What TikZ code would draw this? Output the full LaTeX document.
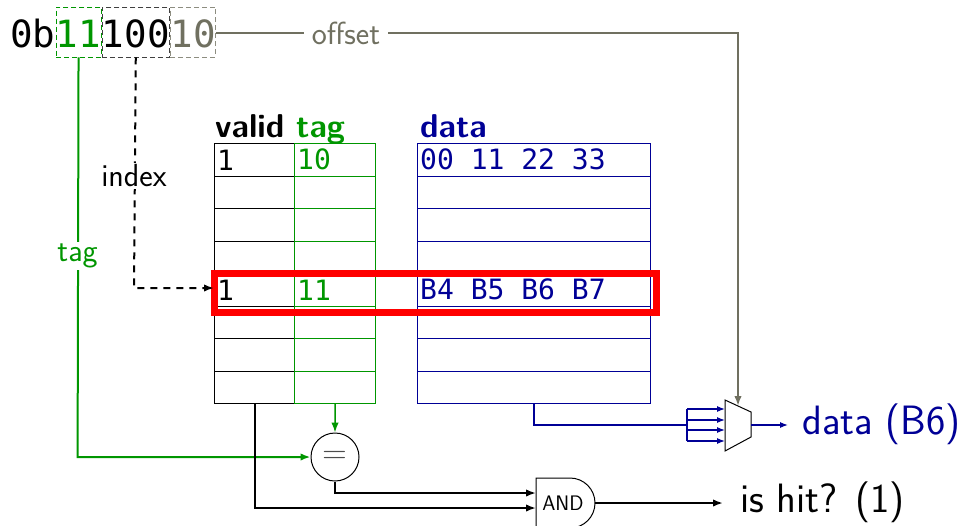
\documentclass[tikz,border=0pt]{standalone}
\usepackage{fontspec}
\setmonofont{DejaVu Sans Mono}
\usetikzlibrary{arrows.meta}
\definecolor{tgreen}{RGB}{0,150,0}
\definecolor{dblue}{RGB}{0,0,150}
\definecolor{offc}{RGB}{112,112,96}
\begin{document}
\begin{tikzpicture}[x=1pt,y=-1pt,
  addr/.style={font=\fontsize{37.5}{40}\selectfont\ttfamily, inner sep=0pt, text height=40pt, text depth=10pt, anchor=base west},
  box/.style={draw, dashed, line width=0.8pt, dash pattern=on 5pt off 3pt},
  mono/.style={font=\fontsize{28}{30}\selectfont\ttfamily, inner xsep=3pt, inner ysep=0pt, anchor=west},
  hdr/.style={font=\fontsize{33}{35}\selectfont\sffamily\bfseries, inner sep=0pt, anchor=base west},
  lbl/.style={font=\fontsize{32}{34}\selectfont\sffamily, fill=white, inner xsep=8pt, inner ysep=2pt},
  big/.style={font=\fontsize{41}{44}\selectfont\sffamily, inner sep=0pt, anchor=base west},
  vcell/.style={draw=black, line width=1.1pt, minimum width=80pt, minimum height=32.5pt, anchor=north west, inner sep=0pt},
  tcell/.style={draw=tgreen, line width=1.1pt, minimum width=81pt, minimum height=32.5pt, anchor=north west, inner sep=0pt},
  dcell/.style={draw=dblue, line width=1.1pt, minimum width=233pt, minimum height=32.5pt, anchor=north west, inner sep=0pt},
  conn/.style={line width=2pt},
  tip/.style={-{Latex[length=10pt,width=7.5pt]}},
  smalltip/.style={-{Latex[length=8pt,width=6pt]}}
]
\useasboundingbox (0,0) rectangle (960,525);

% address
\node[addr] (pre) at (10,47) {0b};
\node[addr, box, draw=tgreen, text=tgreen] (atag) at (pre.base east) {11};
\node[addr, box, draw=black!75] (aidx) at (atag.base east) {100};
\node[addr, box, draw=offc!80, text=offc] (aoff) at (aidx.base east) {10};

% table
\foreach \i in {0,...,7} {
  \node[vcell] (v\i) at (214,{143+32.5*\i}) {};
  \node[tcell] (t\i) at (294,{143+32.5*\i}) {};
  \node[dcell] (d\i) at (417,{143+32.5*\i}) {};
}
\node[hdr] (hv) at (215,137) {valid};
\node[hdr, text=tgreen] (ht) at (296,137) {tag};
\node[hdr, text=dblue] (hd) at (420,137) {data};

\node[mono] (v0x) at (v0.west) {1};
\node[mono, text=tgreen] (t0x) at (t0.west) {10};
\node[mono, text=dblue] (d0x) at (d0.west) {00 11 22 33};
\node[mono] (v4x) at (v4.west) {1};
\node[mono, text=tgreen] (t4x) at (t4.west) {11};
\node[mono, text=dblue] (d4x) at (d4.west) {B4 B5 B6 B7};

\node[draw=red, line width=7pt, minimum width=442pt, minimum height=39pt, anchor=north west, inner sep=0pt] (hl) at (210.5,269.5) {};

% comparator
\node[circle, draw, line width=1pt, minimum size=48pt, inner sep=0pt] (eq) at (335,457) {};
\node[font=\fontsize{34}{34}\selectfont\sffamily, text=black!70, inner sep=0pt] (eqsym) at (eq.center) {=};

% AND gate
\draw[line width=1pt, fill=white] (536,478) -- (570,478) arc[start angle=-90, end angle=90, radius=25] -- (536,528) -- cycle;
\node[font=\fontsize{21}{22}\selectfont\sffamily, inner sep=0pt] (andg) at (563,503) {AND};
\coordinate (andin1) at (536,493);
\coordinate (andin2) at (536,508);
\coordinate (andout) at (595,503);

% mux
\draw[line width=1pt] (725,400) -- (751,412) -- (751,437) -- (725,451) -- cycle;
\coordinate (muxtop) at (738,406);
\coordinate (muxout) at (751,425);
\coordinate (fan) at (687,425);
\foreach \k/\yy in {1/409,2/420,3/430,4/441} {
  \coordinate (mi\k) at (725,\yy);
  \coordinate (fs\k) at (687,\yy);
}

% offset connector
\coordinate (offcorner) at (738,33);
\draw[conn, offc, tip] (aoff.east |- 0,33) -- (offcorner) -- (muxtop);
\node[lbl, text=offc] (offl) at (346,33) {offset};

% index connector
\coordinate (idxcorner) at (134,288);
\draw[conn, dashed, tip, dash pattern=on 7pt off 6pt] (aidx.south) -- (idxcorner) -- (v4.west |- idxcorner);
\node[lbl] (idxl) at (134,176) {index};

% tag connector
\coordinate (tagcorner) at (77.6,457);
\draw[conn, tgreen, tip] (atag.south) -- (tagcorner) -- (eq.west);
\node[lbl, text=tgreen] (tagl) at (77.6,256) {tag};

% stored tag to comparator
\draw[conn, tgreen, tip, line width=1.5pt] (t7.south) -- (eq.north);

% to AND
\draw[conn, tip] (eq.south) |- (andin1);
\draw[conn, tip] (v7.south) |- (andin2);
\coordinate (hitend) at (723,503);
\draw[conn, tip] (andout) -- (hitend);
\node[big] (hit) at (740,512) {is hit? (1)};

% data to mux
\draw[conn, dblue] (d7.south) |- (fan);
\draw[dblue, line width=1.2pt] (fs1) -- (fs4);
\foreach \k in {1,...,4} {
  \draw[dblue, line width=1.2pt, smalltip] (fs\k) -- (mi\k);
}
\coordinate (dout) at (788,425);
\draw[dblue, line width=1.2pt, smalltip] (muxout) -- (dout);
\node[big, text=dblue] (dlab) at (802,434) {data (B6)};
\end{tikzpicture}
\end{document}
